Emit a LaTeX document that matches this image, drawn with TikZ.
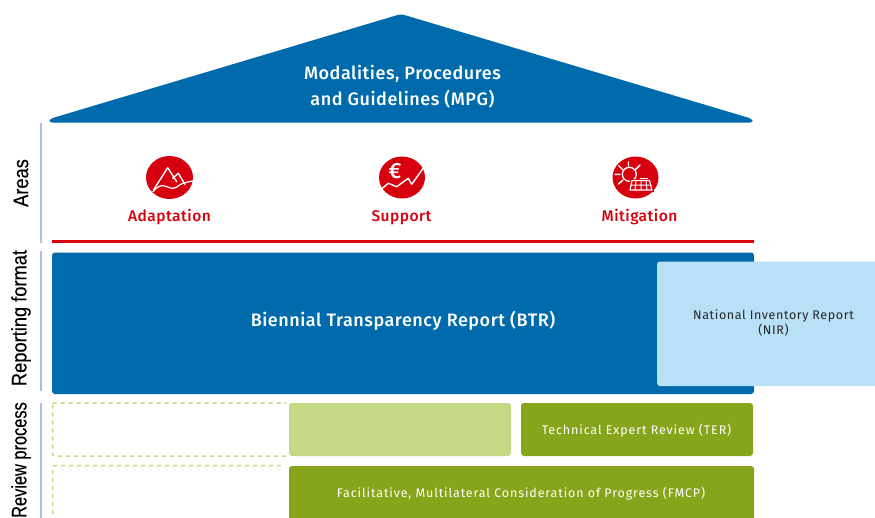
\documentclass[tikz,border=0pt]{standalone}
\usepackage{fontspec}
\setmainfont[BoldFont={Fira Sans Medium}]{Fira Sans}
\newfontfamily\sidefont[FakeStretch=0.87,FakeBold=0.25]{Liberation Sans}
\newfontfamily\sidefontrev[FakeStretch=0.78,FakeBold=0.25]{Liberation Sans}
\definecolor{bluemain}{HTML}{006BAC}
\definecolor{bluelight}{HTML}{B8E0F7}
\definecolor{sideline}{HTML}{A9BFDF}
\definecolor{redmain}{HTML}{D6000F}
\definecolor{greenmain}{HTML}{87A51A}
\definecolor{greenlight}{HTML}{C5D985}
\tikzset{
  sidelabel/.style={rotate=90,font=\sidefont\fontsize{21}{21}\selectfont,text=black,inner sep=0pt,anchor=center},
  sidebar/.style={sideline,line width=2.6pt},
  areatext/.style={text=redmain,font=\fontsize{15.5}{18}\selectfont\addfontfeatures{LetterSpace=3}\bfseries,inner sep=0pt},
  boxtext/.style={text=white,align=center,inner sep=0pt,font=\fontsize{12.5}{15}\selectfont\addfontfeatures{LetterSpace=7}},
  iconline/.style={white,line width=1.4pt,line join=round,line cap=round},
  dashbox/.style={draw=greenlight,line width=1.5pt,dash pattern=on 4pt off 4pt,rounded corners=2pt}
}
\begin{document}
\begin{tikzpicture}[x=1pt,y=-1pt]
\useasboundingbox (0,0) rectangle (875,517);
\clip (0,0) rectangle (875,517);
\fill[white] (0,0) rectangle (875,517);
% roof
\fill[bluemain,rounded corners=3pt] (49,122.5) -- (50,118.8) -- (401,14) -- (752,118.8) -- (753,122.5) -- cycle;
\node[text=white,align=center,inner sep=0pt,font=\fontsize{18}{26}\selectfont\addfontfeatures{LetterSpace=3}\bfseries] (mpg) at (402.5,86.5) {Modalities, Procedures\\and Guidelines (MPG)};
% side bars
\draw[sidebar] (41,123) -- (41,243);
\draw[sidebar] (41,251) -- (41,391);
\draw[sidebar] (41,403) -- (41,520);
\node[sidelabel] (areas) at (21,183) {Areas};
\node[sidelabel] (fmt) at (21,318) {Reporting format};
\node[sidelabel,anchor=east,font=\sidefontrev\fontsize{21}{21}\selectfont] (rev) at (21,402) {Review process};
% adaptation icon
\fill[redmain] (169.5,177.5) ellipse [x radius=23.5,y radius=21.5];
\draw[iconline] (153.5,190) -- (167.7,167.7) -- (176.7,181.7);
\draw[iconline] (172.7,178.3) -- (178.3,173.3) -- (185,184.3);
\draw[iconline,line width=1.2pt] (152.7,191.7) .. controls (157,187) and (160,185.5) .. (163.3,185.7) .. controls (167,186) and (170,188.5) .. (173,188.3) .. controls (177,188) and (179,184.5) .. (183,183.3) .. controls (186,182.5) and (189,181.5) .. (192.7,181);
\node[areatext] (adapt) at (169.5,217.5) {Adaptation};
% support icon
\fill[redmain] (402,177.5) ellipse [x radius=23,y radius=21];
\draw[iconline] (382.3,188.3) -- (388.3,183.3) -- (396.7,186.7) -- (408.3,178.3) -- (411.7,184.3) -- (424.3,166.7);
\node[text=white,inner sep=0pt,font=\fontsize{22}{22}\selectfont\bfseries] (euro) at (395,171.5) {€};
\node[areatext] (supp) at (401.5,217.5) {Support};
% mitigation icon
\fill[redmain] (635.5,177.5) ellipse [x radius=23,y radius=21];
\draw[white,line width=1.3pt] (629.3,174.3) circle [radius=7];
\draw[iconline] (628.5,162) -- (628.5,166) (615,174.3) -- (620,174.3) (618.5,165.5) -- (623,170) (618.5,184) -- (623,180) (640,165) -- (635.5,169.5);
\fill[redmain] (630.5,179) -- (651,179) -- (654,192) -- (628,192) -- cycle;
\draw[white,line width=1.2pt,line join=round] (632,180.5) -- (649.5,180.5) -- (652,190) -- (630,190) -- cycle;
\draw[white,line width=1pt] (636,180.5) -- (635,190) (641,180.5) -- (641,190) (646,180.5) -- (647,190) (631,185) -- (651,185);
\draw[white,line width=1pt] (640,178.5) -- (648,178.5);
\node[areatext] (miti) at (639.5,217.5) {Mitigation};
% red line
\draw[redmain,line width=2.9pt] (52,241.8) -- (754,241.8);
% BTR
\fill[bluemain,rounded corners=3pt] (52,252.5) rectangle (754,394);
\node[text=white,inner sep=0pt,font=\fontsize{18}{22}\selectfont\addfontfeatures{LetterSpace=3}\bfseries] (btr) at (403,320.5) {Biennial Transparency Report (BTR)};
% NIR
\fill[bluelight,rounded corners=3pt] (657,261.5) rectangle (885,386);
\node[text=black!85,align=center,inner sep=0pt,font=\fontsize{12.5}{15.5}\selectfont\addfontfeatures{LetterSpace=5}] (nir) at (773.5,323) {National Inventory Report\\(NIR)};
% review process
\draw[dashbox] (52.5,403) -- (286,403) (286,456) -- (52.5,456) -- (52.5,403);
\draw[dashbox] (281,465.5) -- (52.5,465.5) -- (52.5,520);
\fill[greenlight,rounded corners=3pt] (289,403) rectangle (511,456);
\fill[greenmain,rounded corners=3pt] (521,403) rectangle (753,456);
\node[boxtext] (ter) at (636.5,430.5) {Technical Expert Review (TER)};
\fill[greenmain,rounded corners=3pt] (289,466) rectangle (754,530);
\node[boxtext] (fmcp) at (521,494) {Facilitative, Multilateral Consideration of Progress (FMCP)};
\end{tikzpicture}
\end{document}
